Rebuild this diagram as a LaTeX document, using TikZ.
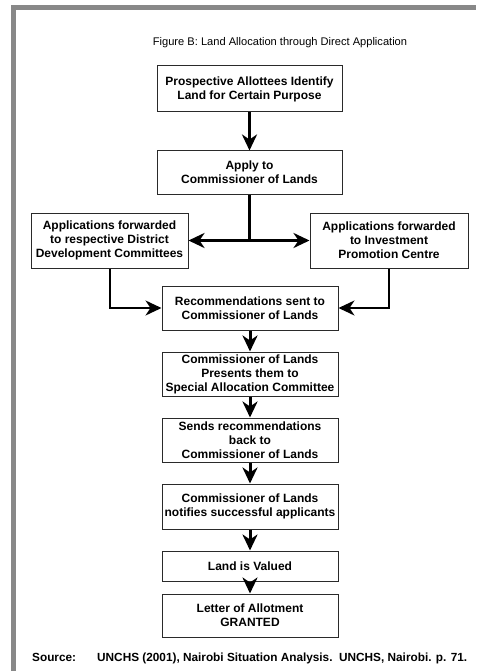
\documentclass[tikz,border=0pt]{standalone}
\usepackage{fontspec}
\setmainfont{Liberation Sans}
\usetikzlibrary{arrows.meta}
\definecolor{framegray}{HTML}{888888}
\definecolor{boxline}{HTML}{2A2A2A}
\tikzset{
  box/.style={draw=boxline, line width=1pt, fill=white, align=center, inner sep=0pt,
    font=\fontsize{12}{14}\selectfont\bfseries},
  flow/.style={line width=3pt, -{Stealth[length=16pt,width=15pt,inset=5pt]}},
  elbow/.style={line width=2pt, -{Stealth[length=16pt,width=15pt,inset=5pt]}},
  trunk/.style={line width=3pt},
  srcfont/.style={font=\fontsize{11.8}{14}\selectfont\bfseries, inner sep=0pt},
}
\begin{document}
\begin{tikzpicture}[x=1pt,y=-1pt]
\useasboundingbox (0,0) rectangle (476,671);
% frame
\fill[framegray] (11,5) rectangle (476,10);
\fill[framegray] (11,5) rectangle (16,671);
% title
\node (title) at (280,43) {\fontsize{11.1}{13}\selectfont Figure B: Land Allocation through Direct Application};
% boxes
\node[box, minimum width=185pt, minimum height=46pt] (b1) at (249.5,89) {Prospective Allottees Identify\\Land for Certain Purpose};
\node[box, minimum width=185pt, minimum height=43pt] (b2) at (249.5,172.5) {Apply to\\Commissioner of Lands};
\node[box, minimum width=157pt, minimum height=55pt] (bl) at (109.5,240.5) {Applications forwarded\\to respective District\\Development Committees};
\node[box, minimum width=158pt, minimum height=55pt] (br) at (389,240.5) {Applications forwarded\\to Investment\\Promotion Centre};
\node[box, minimum width=176pt, minimum height=44pt] (b5) at (250,308) {Recommendations sent to\\Commissioner of Lands};
\node[box, minimum width=176pt, minimum height=44pt] (b6) at (250,374) {Commissioner of Lands\\Presents them to\\Special Allocation Committee};
\node[box, minimum width=176pt, minimum height=44pt] (b7) at (250,440) {Sends recommendations\\back to\\Commissioner of Lands};
\node[box, minimum width=176pt, minimum height=45pt] (b8) at (250,506.5) {Commissioner of Lands\\notifies successful applicants};
\node[box, minimum width=176pt, minimum height=30pt] (b9) at (250,566) {Land is Valued};
\node[box, minimum width=176pt, minimum height=43pt] (b10) at (250,615.5) {Letter of Allotment\\GRANTED};
% source
\node[anchor=base west, srcfont] (src) at (32,661) {Source:};
\node[anchor=base west, srcfont] (ref) at (97,661) {UNCHS (2001), Nairobi Situation Analysis.\ \ UNCHS, Nairobi. p. 71.};
% connectors
\coordinate (j) at (249.5,240.5);
\draw[flow] (b1.south) -- (b2.north);
\draw[trunk] (b2.south) -- ([yshift=1.5pt]j);
\draw[flow] ([xshift=1.5pt]j) -- (bl.east);
\draw[flow] ([xshift=-1.5pt]j) -- (br.west);
\draw[elbow] (bl.south) |- (b5.west);
\draw[elbow] (br.south) |- (b5.east);
\draw[flow] (b5.south) -- (b6.north);
\draw[flow] (b6.south) -- (b7.north);
\draw[flow] (b7.south) -- (b8.north);
\draw[flow] (b8.south) -- (b9.north);
\draw[flow] (b9.south) -- (b10.north);
\end{tikzpicture}
\end{document}
